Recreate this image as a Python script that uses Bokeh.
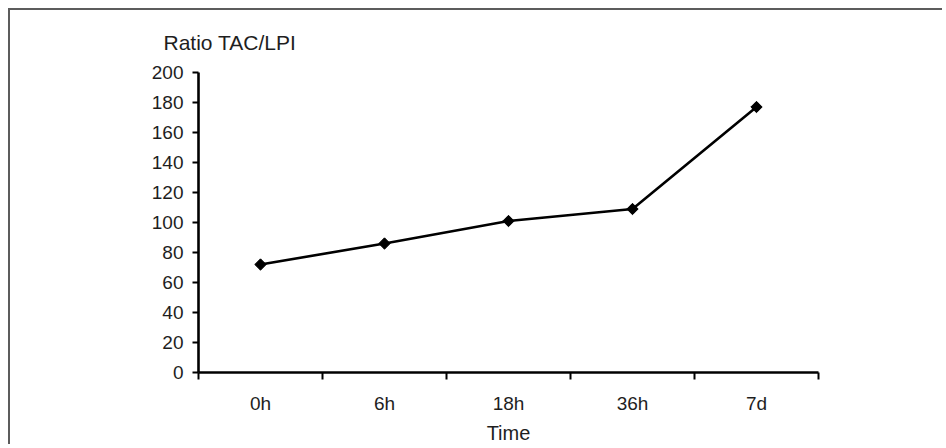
import math
from bokeh.plotting import figure
from bokeh.models import FixedTicker, Range1d, ColumnDataSource, Title
from bokeh.embed import file_html
from bokeh.resources import INLINE

categories = ["0h", "6h", "18h", "36h", "7d"]
ratio = [72, 86, 101, 109, 177]
y_ticks = [0, 20, 40, 60, 80, 100, 120, 140, 160, 180, 200]
title_text = "Ratio TAC/LPI"
x_title = "Time"

FONT = "Liberation Sans"
TXT = "#1e1e1e"

x_pos = [i + 0.5 for i in range(len(categories))]
src = ColumnDataSource(dict(x=x_pos, y=ratio, cat=categories))

p = figure(width=934, height=436, output_backend="svg", toolbar_location=None,
           x_range=Range1d(0, len(categories)), y_range=Range1d(0, 200),
           min_border_left=188, min_border_right=126, min_border_top=62,
           min_border_bottom=74)
p.outline_line_color = None
p.grid.visible = False
p.styles = {"margin-left": "8px", "margin-top": "8px",
            "border-top": "2px solid #5c5c5c", "border-left": "2px solid #5c5c5c"}

# spacer (nearest the frame), then the real title above it
p.add_layout(Title(text=" ", text_font=FONT, text_font_size="11px", standoff=0), "above")
p.add_layout(Title(text=title_text, align="left", offset=-35,
                   text_font=FONT, text_font_size="21px",
                   text_font_style="normal", text_color=TXT), "above")

p.line("x", "y", source=src, line_color="black", line_width=2.6)
p.scatter("x", "y", source=src, marker="square", angle=math.pi / 4, size=8,
          fill_color="black", line_color="black")

xa = p.xaxis[0]
xa.ticker = FixedTicker(ticks=x_pos, minor_ticks=list(range(len(categories) + 1)))
xa.major_label_overrides = {x: c for x, c in zip(x_pos, categories)}
xa.major_tick_line_color = None
xa.major_tick_out = 0
xa.major_tick_in = 0
xa.minor_tick_out = 7
xa.minor_tick_in = 0
xa.minor_tick_line_width = 2
xa.minor_tick_line_color = "black"
xa.axis_line_width = 2.6
xa.axis_line_color = "black"
xa.major_label_standoff = 13
xa.major_label_text_font = FONT
xa.major_label_text_font_size = "19px"
xa.major_label_text_color = TXT
xa.axis_label = x_title
xa.axis_label_text_font = FONT
xa.axis_label_text_font_size = "20px"
xa.axis_label_text_font_style = "normal"
xa.axis_label_text_color = TXT
xa.axis_label_standoff = 5

ya = p.yaxis[0]
ya.ticker = FixedTicker(ticks=y_ticks)
ya.minor_tick_line_color = None
ya.major_tick_out = 6
ya.major_tick_in = 0
ya.major_tick_line_width = 2
ya.major_tick_line_color = "black"
ya.axis_line_width = 2.6
ya.axis_line_color = "black"
ya.major_label_standoff = 9
ya.major_label_text_font = FONT
ya.major_label_text_font_size = "19px"
ya.major_label_text_color = TXT

open("out.html", "w").write(file_html(p, INLINE))
